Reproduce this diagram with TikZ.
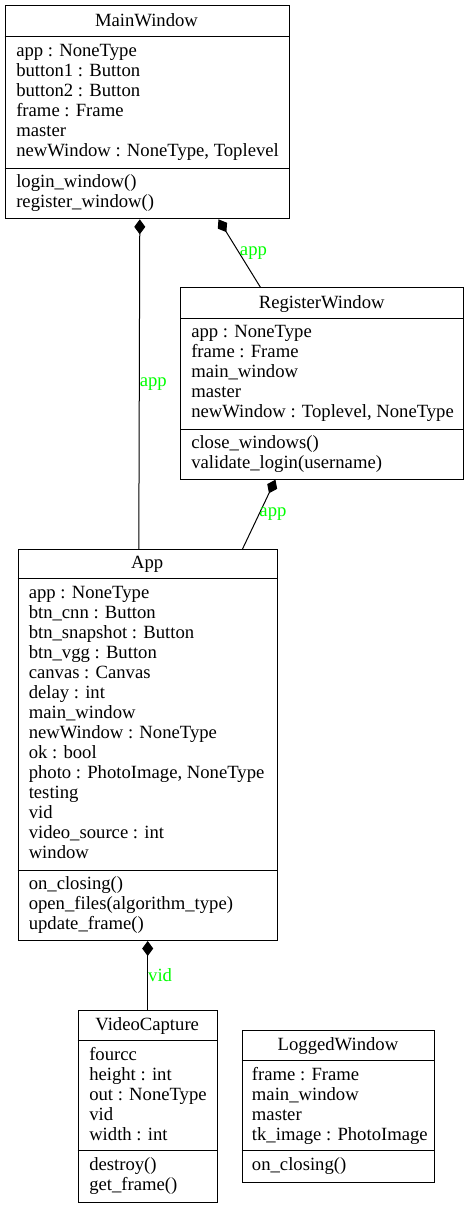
\documentclass[tikz,border=0pt]{standalone}
\usepackage{fontspec}
\setmainfont{Liberation Serif}
\usepackage{tikz}
\usepackage{xcolor}
\usetikzlibrary{shapes, positioning, arrows.meta}

\tikzset{
    cls/.style={draw, rectangle, inner sep=0pt, anchor=north west, line width=0.75pt},
    cname/.style={anchor=base, inner sep=0pt, font=\fontsize{14pt}{15pt}\selectfont},
    members/.style={anchor=base west, align=left, inner sep=0pt, font=\fontsize{14pt}{15pt}\selectfont},
    comp/.style={arrows={Diamond[length=11.25pt, width=8.25pt]-}, line width=0.75pt},
    role/.style={midway, right, inner sep=0pt, text=green, font=\fontsize{14pt}{15pt}\selectfont}
}

\begin{document}
\begin{tikzpicture}[x=0.75pt, y=-0.75pt]
        \useasboundingbox (0,0) rectangle (469,1208);

        \node[cls, minimum width=213pt, minimum height=160pt] (mw) at (4.5, 5) {};
        \node[cls, minimum width=212.6pt, minimum height=143.55pt] (rw) at (180, 287.3) {};
        \node[cls, minimum width=194.25pt, minimum height=293.25pt] (app) at (17.7, 549) {};
        \node[cls, minimum width=104.25pt, minimum height=143.8pt] (vc) at (77.7, 1010) {};
        \node[cls, minimum width=144.45pt, minimum height=113.8pt] (lw) at (241.7, 1030) {};

        \draw[line width=0.75pt] (4.5, 36.7) -- (288.5, 36.7)
            (4.5, 168.3) -- (288.5, 168.3)
            (180, 318.3) -- (463.5, 318.3)
            (180, 429) -- (463.5, 429)
            (17.7, 578.3) -- (276.7, 578.3)
            (17.7, 870) -- (276.7, 870)
            (77.7, 1040) -- (216.7, 1040)
            (77.7, 1150.7) -- (216.7, 1150.7)
            (241.7, 1060.7) -- (434.3, 1060.7)
            (241.7, 1150.7) -- (434.3, 1150.7);

        \node[cname] (mw-name) at (146.5, 26) {MainWindow};
        \node[members] (mw-attrs) at (16, 156.2) {app : NoneType\\button1 : Button\\button2 : Button\\frame : Frame\\master\\newWindow : NoneType, Toplevel};
        \node[members] (mw-ops) at (16, 207.8) {login\_window()\\register\_window()};

        \node[cname] (rw-name) at (321.75, 308.3) {RegisterWindow};
        \node[members] (rw-attrs) at (191, 417.8) {app : NoneType\\frame : Frame\\main\_window\\master\\newWindow : Toplevel, NoneType};
        \node[members] (rw-ops) at (191, 468.5) {close\_windows()\\validate\_login(username)};

        \node[cname] (app-name) at (147.2, 568.5) {App};
        \node[members] (app-attrs) at (28.5, 858) {app : NoneType\\btn\_cnn : Button\\btn\_snapshot : Button\\btn\_vgg : Button\\canvas : Canvas\\delay : int\\main\_window\\newWindow : NoneType\\ok : bool\\photo : PhotoImage, NoneType\\testing\\vid\\video\_source : int\\window};
        \node[members] (app-ops) at (28.5, 929.5) {on\_closing()\\open\_files(algorithm\_type)\\update\_frame()};

        \node[cname] (vc-name) at (147.2, 1030) {VideoCapture};
        \node[members] (vc-attrs) at (89, 1140) {fourcc\\height : int\\out : NoneType\\vid\\width : int};
        \node[members] (vc-ops) at (89, 1190.5) {destroy()\\get\_frame()};

        \node[cname] (lw-name) at (338, 1050) {LoggedWindow};
        \node[members] (lw-attrs) at (251.7, 1140.2) {frame : Frame\\main\_window\\master\\tk\_image : PhotoImage};
        \node[members] (lw-ops) at (251.7, 1170.5) {on\_closing()};

        \draw[comp] ([shift={(-7.2,0)}]mw.south) -- node[role] {app} ([shift={(-8.9,0)}]app.north);
        \draw[comp] ([shift={(71.5,0)}]mw.south) -- node[role] {app} ([shift={(-61.8,0)}]rw.north);
        \draw[comp] ([shift={(-46.8,0)}]rw.south) -- node[role] {app} ([shift={(94.8,0)}]app.north);
        \draw[comp] (app.south) -- node[role] {vid} (vc.north);
    \end{tikzpicture}
\end{document}
